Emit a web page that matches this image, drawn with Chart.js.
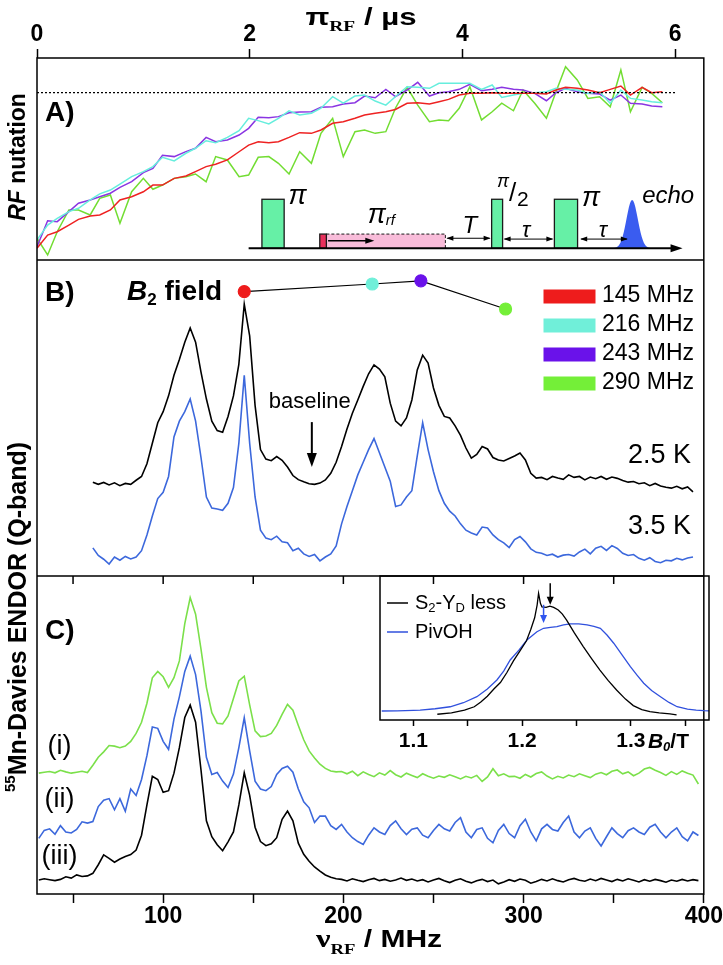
<!DOCTYPE html>
<html>
<head>
<meta charset="utf-8">
<script src="https://cdn.jsdelivr.net/npm/chart.js@4.4.1/dist/chart.umd.min.js"></script>
<style>
  body { margin: 0; background: #fff; }
  #wrap { position: relative; width: 723px; height: 965px; }
  #main { position: absolute; left: 0; top: 0; }
  #inset { position: absolute; left: 379px; top: 575px; }
</style>
</head>
<body>
<div id="wrap">
  <canvas id="main" width="723" height="965"></canvas>
  <canvas id="inset" width="331" height="185"></canvas>
</div>
<script>
"use strict";

// ---- panel A: RF nutation (pi_RF in us, echo normalised to 1) ----
let nutTime = [0, 0.1, 0.19, 0.3, 0.39, 0.5, 0.59, 0.69, 0.78, 0.89,
  1.0, 1.09, 1.18, 1.29, 1.4, 1.49, 1.59, 1.68, 1.79, 1.9,
  1.99, 2.08, 2.18, 2.27, 2.37, 2.47, 2.58, 2.67, 2.78, 2.88,
  2.99, 3.08, 3.18, 3.28, 3.37, 3.48, 3.58, 3.69, 3.78, 3.87,
  3.97, 4.07, 4.18, 4.28, 4.37, 4.48, 4.57, 4.68, 4.79, 4.88,
  4.97, 5.08, 5.18, 5.29, 5.39, 5.49, 5.58, 5.69, 5.78, 5.88];
let nut145 = [0.07, 0.149, 0.169, 0.209, 0.243, 0.263, 0.269, 0.299, 0.359, 0.378,
  0.408, 0.448, 0.448, 0.488, 0.502, 0.528, 0.558, 0.572, 0.598, 0.647,
  0.687, 0.707, 0.701, 0.707, 0.733, 0.761, 0.757, 0.777, 0.817, 0.827,
  0.847, 0.867, 0.877, 0.886, 0.9, 0.937, 0.94, 0.932, 0.946, 0.96,
  0.986, 0.996, 0.996, 1.0, 0.996, 0.996, 0.996, 0.996, 0.992, 1.016,
  1.032, 1.026, 1.016, 1.0, 1.02, 1.04, 0.986, 1.032, 1.0, 1.006];
let nut216 = [0.12, 0.209, 0.249, 0.289, 0.309, 0.359, 0.395, 0.418, 0.454, 0.498,
  0.528, 0.558, 0.614, 0.592, 0.638, 0.668, 0.713, 0.701, 0.733, 0.773,
  0.847, 0.833, 0.813, 0.847, 0.892, 0.867, 0.877, 0.907, 0.976, 0.937,
  0.98, 0.986, 0.95, 0.926, 0.976, 1.036, 1.032, 1.026, 1.056, 1.056,
  1.056, 1.056, 1.02, 1.046, 0.972, 0.986, 0.996, 1.0, 1.006, 1.026,
  1.02, 1.016, 0.996, 1.006, 0.937, 1.016, 0.966, 0.956, 0.946, 0.94];
let nut243 = [0.08, 0.235, 0.229, 0.289, 0.339, 0.359, 0.378, 0.399, 0.434, 0.468,
  0.522, 0.548, 0.626, 0.618, 0.648, 0.668, 0.733, 0.707, 0.717, 0.747,
  0.787, 0.853, 0.851, 0.857, 0.88, 0.885, 0.886, 0.913, 0.916, 0.932,
  0.94, 0.98, 0.97, 1.02, 0.976, 1.016, 1.062, 0.98, 1.0, 1.006,
  1.02, 1.05, 1.012, 1.02, 1.032, 1.02, 1.016, 0.996, 0.952, 1.0,
  1.026, 1.006, 0.996, 0.992, 0.956, 0.986, 0.937, 0.932, 0.92, 0.916];
let nut290 = [0.13, 0.03, 0.169, 0.299, 0.299, 0.269, 0.369, 0.389, 0.219, 0.408,
  0.488, 0.423, 0.448, 0.488, 0.498, 0.514, 0.468, 0.618, 0.598, 0.498,
  0.508, 0.614, 0.618, 0.578, 0.514, 0.647, 0.578, 0.757, 0.847, 0.618,
  0.767, 0.777, 0.757, 0.767, 0.907, 1.032, 0.926, 0.827, 0.837, 0.833,
  0.907, 1.036, 0.837, 0.886, 0.937, 0.892, 1.016, 0.937, 0.847, 1.006,
  1.155, 1.076, 0.966, 0.976, 0.916, 1.136, 0.886, 1.032, 0.996, 0.94];
let nutLevel = [0, 6];

// ---- panel B: ENDOR at 2.5 K and 3.5 K, B2 field at four frequencies ----
let b2Freq = [145, 216, 243, 290];
let b2Field = [90.0, 92.4, 93.4, 84.5];
let freqB = [61, 64, 67, 70, 73, 76, 79, 82, 85, 88,
  91, 94, 97, 100, 103, 106, 109, 112, 115, 118,
  121, 124, 127, 130, 133, 136, 139, 142, 145, 148,
  151, 154, 157, 160, 163, 166, 169, 172, 175, 178,
  181, 184, 187, 190, 193, 196, 199, 202, 205, 208,
  211, 214, 217, 220, 223, 226, 229, 232, 235, 238,
  241, 244, 247, 250, 253, 256, 259, 262, 265, 268,
  271, 274, 277, 280, 283, 286, 289, 292, 295, 298,
  301, 304, 307, 310, 313, 316, 319, 322, 325, 328,
  331, 334, 337, 340, 343, 346, 349, 352, 355, 358,
  361, 364, 367, 370, 373, 376, 379, 382, 385, 388,
  391, 394];
let endor25K = [29.7, 29.0, 29.6, 28.8, 29.5, 28.6, 29.3, 29.0, 30.3, 31.5,
  35.5, 42, 48.5, 52, 57, 63.5, 68.5, 74, 78.5, 74,
  64.5, 56, 49, 46, 45.5, 50.5, 57, 67, 86, 76,
  54, 40, 37, 36.5, 37.8, 36.6, 34.5, 31.8, 30.5, 29.8,
  29.2, 29.0, 29.4, 30.4, 32.5, 36, 41, 46.5, 51.5, 55.7,
  60, 64, 66.8, 65.5, 63, 54.7, 49, 47.5, 50, 55.7,
  65.2, 69.9, 67.4, 59.5, 54, 50.5, 50, 47.5, 44.5, 40.5,
  37.3, 38.5, 41, 40.2, 37.5, 36.7, 36.4, 37.2, 38, 38.9,
  36.7, 32.5, 31, 31.2, 30.5, 31.5, 31, 30.6, 32, 31.2,
  31.5, 30.4, 31.3, 30.8, 31.5, 30.6, 31.3, 30.9, 30.2, 29.7,
  29.9, 29.2, 29.5, 28.6, 29.3, 28.5, 28.1, 27.8, 28.4, 27.6,
  28.2, 26.6];
let endor35K = [8.9, 6.5, 5.3, 3.8, 6.0, 5.0, 6.2, 5.4, 6.0, 8.0,
  13, 19, 24.5, 26.5, 31.5, 44, 49, 52, 56, 49,
  37.5, 25, 21.5, 21.2, 20.8, 23, 28, 42, 63.5, 42,
  25, 14.5, 12, 11.5, 12.6, 10.8, 10.5, 8.0, 8.8, 7.0,
  6.2, 6.8, 4.8, 6.0, 7.0, 9.5, 16.5, 22, 27, 32,
  36, 40, 43.5, 39, 34.5, 30, 22, 22.5, 25, 27,
  38, 48.5, 40, 33, 27, 23, 20.5, 19, 16.5, 14.5,
  13.6, 13, 15.5, 15.2, 13, 11.5, 10.5, 9, 11.5, 12.5,
  10.8, 8.6, 7.5, 7.2, 6.5, 6.9, 6.0, 6.6, 6.8, 6.3,
  7.6, 8.5, 7.0, 8.8, 9.4, 8.1, 9.6, 8.7, 7.2, 6.5,
  6.8, 5.6, 5.0, 5.8, 4.6, 4.2, 5.0, 4.8, 5.6, 5.1,
  5.7, 6.0];
let baselineFreq = 182.5;
let baselineArrow = [48.7, 34.5];

// ---- panel C: ENDOR spectra (i), (ii), (iii) ----
let freqC = [31, 34, 37, 40, 43, 46, 49, 52, 55, 58,
  61, 64, 67, 70, 73, 76, 79, 82, 85, 88,
  91, 94, 97, 100, 103, 106, 109, 112, 115, 118,
  121, 124, 127, 130, 133, 136, 139, 142, 145, 148,
  151, 154, 157, 160, 163, 166, 169, 172, 175, 178,
  181, 184, 187, 190, 193, 196, 199, 202, 205, 208,
  211, 214, 217, 220, 223, 226, 229, 232, 235, 238,
  241, 244, 247, 250, 253, 256, 259, 262, 265, 268,
  271, 274, 277, 280, 283, 286, 289, 292, 295, 298,
  301, 304, 307, 310, 313, 316, 319, 322, 325, 328,
  331, 334, 337, 340, 343, 346, 349, 352, 355, 358,
  361, 364, 367, 370, 373, 376, 379, 382, 385, 388,
  391, 394, 397];
let endorI = [38.0, 38.3, 38.5, 38.1, 38.9, 38.4, 38.0, 38.3, 38.6, 38.2,
  40.5, 43, 44.7, 46.7, 46.5, 46, 46.5, 48, 50.5, 54,
  60, 68, 70, 68.3, 65, 68, 73.3, 85, 93.2, 88,
  77, 65, 57, 53.7, 53.5, 56, 61.5, 67, 68.5, 59.5,
  51.3, 49.5, 49.7, 50.5, 53, 56.5, 59.6, 57.8, 53, 48.5,
  45, 42.8, 40.8, 39.5, 38.7, 38.4, 38.5, 37.8, 38.6, 37.2,
  38.4, 37.6, 36.9, 38.1, 37.4, 38.8, 37.5, 36.8, 38.0, 37.3,
  36.6, 37.8, 37.0, 36.4, 37.1, 36.7, 37.5, 36.9, 36.2, 37.0,
  36.5, 37.3, 35.4, 36.8, 39.4, 37.2, 37.8, 36.9, 37.0, 36.4,
  37.6, 36.8, 37.9, 38.4, 37.1, 36.2, 37.0, 36.5, 37.4, 36.9,
  37.8, 37.2, 36.6, 37.7, 38.2, 37.5, 38.6, 39.0, 37.8, 38.4,
  37.2, 38.0, 39.3, 39.8, 38.9, 38.2, 37.3, 38.5, 37.6, 38.7,
  38.0, 37.4, 34.6];
let endorII = [17.5, 20.0, 20.5, 18.8, 21.5, 19.5, 19.2, 20.3, 22.7, 22.3,
  22.8, 27.5, 29.5, 30, 26.5, 30, 26, 33, 31, 36,
  43.5, 52.5, 52.1, 48, 45.5, 55, 62, 70, 74.8, 69,
  57.5, 43, 37.6, 38.2, 35.5, 33.5, 37.7, 46, 55.4, 45,
  35.5, 33, 32.5, 33.8, 37.6, 39.5, 40.2, 38.3, 33, 29,
  27.1, 22.5, 24.5, 24.5, 21.5, 20.3, 21.9, 19.5, 17.7, 16.5,
  15.6, 18.5, 20.8, 19.5, 18.7, 21.5, 23.0, 20.5, 18.7, 20.4,
  20.8, 18.5, 17.7, 20.0, 21.9, 20.5, 19.8, 22.5, 24.0, 19.5,
  17.7, 20.3, 20.8, 17.5, 16.1, 20.0, 21.9, 19.0, 17.7, 21.5,
  23.5, 19.5, 16.7, 20.5, 21.9, 20.3, 19.8, 22.5, 24.5, 19.5,
  17.7, 19.8, 20.8, 17.5, 15.1, 18.0, 20.8, 19.0, 17.7, 19.9,
  20.8, 19.5, 18.7, 21.0, 21.9, 19.5, 17.7, 19.5, 20.8, 18.0,
  16.7, 19.5, 18.4];
let endorIII = [4.4, 4.8, 4.5, 4.2, 4.6, 5.4, 5.0, 6.0, 5.5, 5.7,
  6.5, 9.2, 12.3, 11.2, 10.0, 11.0, 11.8, 12.4, 13.8, 18.5,
  28, 37, 36, 32, 32.5, 38, 46, 55.5, 59.4, 54,
  39, 23, 18, 15.5, 13.6, 16.4, 19.5, 28, 38.1, 31,
  21, 16.5, 15.2, 15.8, 17.7, 23.5, 26.1, 23, 16, 12.5,
  10.3, 8.5, 7.2, 6.0, 5.3, 4.8, 4.6, 4.1, 4.8, 4.3,
  3.9, 4.5, 4.9, 4.2, 4.6, 4.0, 4.4, 5.0, 4.3, 4.7,
  4.1, 4.5, 3.8, 4.4, 4.9, 4.2, 3.6, 4.3, 4.8, 4.0,
  3.5, 4.2, 4.6, 3.9, 4.4, 3.2, 3.8, 4.5, 4.0, 4.7,
  4.3, 3.4, 3.9, 4.6, 4.1, 4.8, 4.2, 3.8, 4.5, 4.9,
  4.3, 4.0, 4.7, 4.2, 4.9, 4.4, 3.9, 4.6, 4.1, 4.8,
  4.3, 3.8, 4.5, 4.0, 4.6, 4.2, 3.7, 4.4, 4.0, 4.6,
  4.1, 4.5, 4.2];

// ---- inset: field-swept echo, B0 in T ----
let fieldBlack = [1.122, 1.135, 1.147, 1.156, 1.162, 1.168, 1.174, 1.18, 1.186, 1.192,
  1.198, 1.204, 1.208, 1.2115, 1.2138, 1.2151, 1.2168, 1.2182, 1.222, 1.2255,
  1.229, 1.2332, 1.237, 1.2409, 1.248, 1.2562, 1.264, 1.2715, 1.279, 1.2868,
  1.295, 1.3022, 1.31, 1.3175, 1.326, 1.3359, 1.342];
let echoBlack = [4.0, 5.0, 6.8, 9.2, 12.5, 16.5, 21.5, 26, 33, 41,
  48, 55, 63, 71, 80, 88, 81, 78.5, 78.2, 79,
  78.2, 76.4, 73.5, 69.4, 60.5, 51, 42.5, 34.7, 27.5, 20.8,
  14.5, 10, 7.2, 5.8, 4.9, 4.2, 3.5];
let fieldBlue = [1.0709, 1.085, 1.1, 1.1062, 1.12, 1.1338, 1.146, 1.1584, 1.168, 1.1768,
  1.183, 1.189, 1.197, 1.2044, 1.2136, 1.2197, 1.226, 1.232, 1.238, 1.2443,
  1.252, 1.2597, 1.266, 1.2719, 1.278, 1.2842, 1.292, 1.2995, 1.3058, 1.3118,
  1.319, 1.3272, 1.335, 1.3425, 1.352, 1.36, 1.367, 1.3718];
let echoBlue = [6.25, 6.4, 6.7, 6.9, 7.8, 9.2, 12, 16.2, 21.5, 27.8,
  34, 41.7, 48.5, 55.6, 61.3, 63.7, 64.3, 64.8, 66, 66.7,
  66.8, 66, 65, 63.7, 59, 53.3, 45, 37, 31, 25.5,
  20.5, 16.2, 12.2, 9.2, 7.5, 6.8, 6.5, 6.4];
let insetArrowField = [1.2258, 1.2197];
let insetArrowEcho = [[95, 80], [80, 67.4]];

// ---- axes ----
let mhzTicks = [50, 100, 150, 200, 250, 300, 350, 400];
let mhzLabels = ["", "100", "", "200", "", "300", "", "400"];
let usTicks = [0, 2, 4, 6];
let usLabels = ["0", "2", "4", "6"];
let teslaTicks = [1.1, 1.15, 1.2, 1.25, 1.3, 1.35];
let teslaLabels = ["1.1", "", "1.2", "", "1.3", ""];

const sans = '"Liberation Sans", Arial, Helvetica, sans-serif';
const narrow = '"Liberation Sans Narrow", "Arial Narrow", "Liberation Sans", sans-serif';
const serif = '"Liberation Serif", "Times New Roman", serif';
const nutColors = ["#ee2222", "#66eedd", "#8a35e2", "#72dd32"];
const b2Colors = ["#ee1c1c", "#70efd9", "#6a12ea", "#74ef38"];
const blueLine = "#3c68dc";

function pts(xs, ys) {
  return xs.map((v, i) => ({ x: v, y: ys[i] }));
}

function line(data, color, xId, yId, width) {
  return {
    data: data, borderColor: color, borderWidth: width || 1.5,
    pointRadius: 0, tension: 0, xAxisID: xId, yAxisID: yId
  };
}

// draws a list of [text, font, dy] pieces one after another
function rich(ctx, x, y, parts) {
  for (const p of parts) {
    ctx.font = p[1];
    ctx.fillText(p[0], x, y + (p[2] || 0));
    x += ctx.measureText(p[0]).width;
  }
  return x;
}

function richWidth(ctx, parts) {
  let w = 0;
  for (const p of parts) {
    ctx.font = p[1];
    w += ctx.measureText(p[0]).width;
  }
  return w;
}

function vertical(ctx, cx, cy, parts) {
  ctx.save();
  ctx.translate(cx, cy);
  ctx.rotate(-Math.PI / 2);
  ctx.textBaseline = "middle";
  ctx.textAlign = "left";
  rich(ctx, -richWidth(ctx, parts) / 2, 0, parts);
  ctx.restore();
}

function stretched(ctx, cx, y, sx, parts) {
  ctx.save();
  ctx.translate(cx, y);
  ctx.scale(sx, 1);
  ctx.textBaseline = "alphabetic";
  ctx.textAlign = "left";
  rich(ctx, -richWidth(ctx, parts) / 2, 0, parts);
  ctx.restore();
}

function head(ctx, x, y, dx, dy, len, hw) {
  // filled arrow head with tip at x,y pointing along dx,dy
  ctx.beginPath();
  ctx.moveTo(x, y);
  ctx.lineTo(x - dx * len - dy * hw, y - dy * len - dx * hw);
  ctx.lineTo(x - dx * len + dy * hw, y - dy * len + dx * hw);
  ctx.closePath();
  ctx.fill();
}

function drawPulses(chart) {
  const ctx = chart.ctx;
  const X = t => chart.scales.x2.getPixelForValue(t);
  const Y = v => chart.scales.yA.getPixelForValue(v);
  const y0 = Y(0.07);
  ctx.save();
  ctx.strokeStyle = "#1a1a1a";
  ctx.fillStyle = "#f8bcd9";
  ctx.fillRect(X(2.721), Y(0.155), X(3.84) - X(2.721), y0 - Y(0.155));
  ctx.setLineDash([3, 2]);
  ctx.lineWidth = 1;
  ctx.beginPath();
  ctx.moveTo(X(2.721), Y(0.155));
  ctx.lineTo(X(3.84), Y(0.155));
  ctx.lineTo(X(3.84), y0);
  ctx.stroke();
  ctx.setLineDash([]);
  ctx.lineWidth = 1.3;
  ctx.fillStyle = "#e8305c";
  ctx.fillRect(X(2.659), Y(0.155), X(2.721) - X(2.659), y0 - Y(0.155));
  ctx.strokeRect(X(2.659), Y(0.155), X(2.721) - X(2.659), y0 - Y(0.155));
  [[2.115, 2.324], [4.275, 4.378], [4.865, 5.083]].forEach(p => {
    ctx.fillStyle = "#66f0a6";
    ctx.fillRect(X(p[0]), Y(0.363), X(p[1]) - X(p[0]), y0 - Y(0.363));
    ctx.strokeRect(X(p[0]), Y(0.363), X(p[1]) - X(p[0]), y0 - Y(0.363));
  });
  // echo
  ctx.fillStyle = "#3a5cf0";
  ctx.beginPath();
  ctx.moveTo(X(5.396), y0);
  for (let k = -20; k <= 20; k++) {
    ctx.lineTo(X(5.596 + k * 0.01), y0 - (y0 - Y(0.359)) * Math.exp(-Math.pow(k / 7.5, 2)));
  }
  ctx.closePath();
  ctx.fill();
  // time axis
  ctx.fillStyle = "#000";
  ctx.strokeStyle = "#000";
  ctx.lineWidth = 2;
  ctx.beginPath();
  ctx.moveTo(X(1.99), y0);
  ctx.lineTo(X(6.0), y0);
  ctx.stroke();
  head(ctx, X(6.07), y0, 1, 0, 12, 4);
  // delays
  ctx.lineWidth = 1;
  [[3.84, 4.275, 0.13], [4.378, 4.865, 0.125], [5.098, 5.565, 0.125]].forEach(p => {
    const yy = Y(p[2]);
    ctx.beginPath();
    ctx.moveTo(X(p[0]) + 2, yy);
    ctx.lineTo(X(p[1]) - 2, yy);
    ctx.stroke();
    head(ctx, X(p[0]) + 1, yy, -1, 0, 7, 2.5);
    head(ctx, X(p[1]) - 1, yy, 1, 0, 7, 2.5);
  });
  ctx.lineWidth = 1.3;
  ctx.beginPath();
  ctx.moveTo(X(2.737), Y(0.115));
  ctx.lineTo(X(3.12), Y(0.115));
  ctx.stroke();
  head(ctx, X(3.172), Y(0.115), 1, 0, 9, 3);
  // labels
  ctx.textBaseline = "middle";
  ctx.textAlign = "center";
  ctx.font = "italic 27px " + sans;
  ctx.fillText("π", X(2.45), Y(0.378));
  ctx.fillText("π", X(5.21), Y(0.369));
  ctx.font = "italic 18px " + sans;
  ctx.fillText("π", X(4.382), Y(0.468));
  ctx.font = "26px " + sans;
  ctx.fillText("/", X(4.471), Y(0.394));
  ctx.font = "21px " + sans;
  ctx.fillText("2", X(4.569), Y(0.359));
  ctx.font = "italic 24px " + sans;
  ctx.fillText("T", X(4.07), Y(0.2));
  ctx.font = "italic 22px " + sans;
  ctx.fillText("τ", X(4.6), Y(0.175));
  ctx.fillText("τ", X(5.32), Y(0.175));
  ctx.textAlign = "left";
  ctx.font = "italic 24px " + sans;
  ctx.fillText("echo", X(5.69), Y(0.378));
  rich(ctx, X(3.11), Y(0.269), [["π", "italic 27px " + sans], ["rf", "italic 15px " + sans, 6]]);
  ctx.restore();
}

function drawLabels(chart) {
  const ctx = chart.ctx;
  const s = chart.scales;
  ctx.save();
  ctx.fillStyle = "#000";
  ctx.textAlign = "left";
  ctx.textBaseline = "middle";
  ctx.font = "bold 28px " + sans;
  ctx.fillText("A)", 45, 113);
  ctx.fillText("B)", 45, 293);
  ctx.fillText("C)", 45, 631);
  rich(ctx, 127, 292, [["B", "italic bold 28px " + sans], ["2", "bold 17px " + sans, 8],
    [" field", "bold 28px " + sans]]);

  // B2 legend
  b2Freq.forEach((f, i) => {
    const yy = 296.5 + i * 29;
    ctx.fillStyle = b2Colors[i];
    ctx.fillRect(543.5, yy - 7, 52, 14);
    ctx.fillStyle = "#000";
    ctx.font = "23px " + sans;
    ctx.fillText(f + " MHz", 602, yy - 1);
  });

  // baseline marker
  const bx = s.x.getPixelForValue(baselineFreq);
  const yTop = s.yB.getPixelForValue(baselineArrow[0]);
  const yTip = s.yB.getPixelForValue(baselineArrow[1]);
  ctx.strokeStyle = "#000";
  ctx.lineWidth = 2;
  ctx.beginPath();
  ctx.moveTo(bx, yTop);
  ctx.lineTo(bx, yTip - 10);
  ctx.stroke();
  head(ctx, bx, yTip, 0, 1, 14, 5);
  ctx.textAlign = "center";
  ctx.font = "22px " + sans;
  ctx.fillText("baseline", bx - 2, yTop - 20);

  ctx.textAlign = "right";
  ctx.font = "27px " + sans;
  ctx.fillText("2.5 K", 691, 456);
  ctx.fillText("3.5 K", 691, 527);

  ctx.textAlign = "center";
  ctx.fillText("(i)", 59.5, 747);
  ctx.fillText("(ii)", 59.5, 800);
  ctx.fillText("(iii)", 59.5, 857);

  vertical(ctx, 19, 157, [["RF", "italic bold 23px " + sans], [" nutation", "bold 23px " + sans]]);
  vertical(ctx, 19, 617, [["55", "bold 15px " + sans, -8], ["Mn-Davies ENDOR (Q-band)", "bold 25px " + sans]]);

  stretched(ctx, 361, 25, 1.3, [["π", "bold 24px " + sans], ["RF", "bold 15px " + serif, 6],
    [" / µs", "bold 24px " + sans]]);
  stretched(ctx, 379, 947, 1.25, [["ν", "bold 26px " + serif], ["RF", "bold 15px " + serif, 7],
    [" / MHz", "bold 24px " + sans]]);
  ctx.restore();
}

const framePlugin = {
  id: "frame",
  beforeDraw(chart) {
    const ctx = chart.ctx;
    ctx.save();
    ctx.fillStyle = "#fff";
    ctx.fillRect(0, 0, chart.width, chart.height);
    ctx.restore();
  },
  afterDatasetsDraw(chart) {
    const ctx = chart.ctx;
    const a = chart.chartArea;
    const s = chart.scales;
    ctx.save();
    ctx.strokeStyle = "#000";
    ctx.lineWidth = 1.5;
    ctx.strokeRect(a.left, a.top, a.right - a.left, a.bottom - a.top);
    ctx.beginPath();
    ctx.moveTo(a.left, s.yA.bottom);
    ctx.lineTo(a.right, s.yA.bottom);
    ctx.moveTo(a.left, s.yB.bottom);
    ctx.lineTo(a.right, s.yB.bottom);
    // ticks pointing into panel C
    s.x.ticks.forEach(t => {
      const px = s.x.getPixelForValue(t.value);
      if (px < a.right - 2) {
        ctx.moveTo(px, s.yB.bottom);
        ctx.lineTo(px, s.yB.bottom + 8);
      }
    });
    ctx.stroke();
    ctx.restore();
    drawPulses(chart);
    drawLabels(chart);
  }
};

function hiddenY(min, max, weight, stackWeight) {
  return {
    type: "linear", position: "left", stack: "fig", stackWeight: stackWeight, weight: weight,
    min: min, max: max, ticks: { display: false }, grid: { display: false },
    border: { display: false }, afterFit: s => { s.width = 0; }
  };
}

let tickFont = { family: narrow, size: 23, weight: "bold" };

let b2Set = line(pts(b2Freq, b2Field), "#000", "x", "yB", 1.2);
b2Set.pointRadius = 6;
b2Set.pointBackgroundColor = b2Colors;
b2Set.pointBorderColor = b2Colors;
b2Set.order = -1;

let levelSet = line(pts(nutLevel, [1, 1]), "#000", "x2", "yA", 1.2);
levelSet.borderDash = [2, 2];

new Chart(document.getElementById("main"), {
  type: "line",
  data: {
    datasets: [
      b2Set,
      levelSet,
      line(pts(nutTime, nut145), nutColors[0], "x2", "yA"),
      line(pts(nutTime, nut216), nutColors[1], "x2", "yA"),
      line(pts(nutTime, nut243), nutColors[2], "x2", "yA"),
      line(pts(nutTime, nut290), nutColors[3], "x2", "yA"),
      line(pts(freqB, endor25K), "#000", "x", "yB", 1.6),
      line(pts(freqB, endor35K), blueLine, "x", "yB", 1.6),
      line(pts(freqC, endorI), "#7be04a", "x", "yC", 1.6),
      line(pts(freqC, endorII), blueLine, "x", "yC", 1.6),
      line(pts(freqC, endorIII), "#000", "x", "yC", 1.6)
    ]
  },
  options: {
    responsive: false,
    animation: false,
    layout: { padding: { left: 37, right: 14, top: 0, bottom: 0 } },
    plugins: { legend: { display: false }, tooltip: { enabled: false } },
    scales: {
      x: {
        type: "linear", position: "bottom", min: 30, max: 400,
        afterBuildTicks: s => { s.ticks = mhzTicks.map(v => ({ value: v })); },
        ticks: { callback: (v, i) => mhzLabels[i], font: tickFont, color: "#000", padding: 0, maxRotation: 0, autoSkip: false },
        grid: { drawOnChartArea: false, tickLength: 9, tickColor: "#000", tickWidth: 1.5 },
        border: { display: false },
        afterFit: s => { s.height = 71; }
      },
      x2: {
        type: "linear", position: "top", min: 0, max: 6.27,
        afterBuildTicks: s => { s.ticks = usTicks.map(v => ({ value: v })); },
        ticks: { callback: (v, i) => usLabels[i], font: tickFont, color: "#000", padding: 1, maxRotation: 0, autoSkip: false },
        grid: { drawOnChartArea: false, tickLength: 9, tickColor: "#000", tickWidth: 1.5 },
        border: { display: false },
        afterFit: s => { s.height = 58; }
      },
      yA: hiddenY(0, 1.2074, 3, 202),
      yB: hiddenY(0, 100, 2, 316),
      yC: hiddenY(0, 100, 1, 318)
    }
  },
  plugins: [framePlugin]
});

// ---- inset chart ----
const insetPlugin = {
  id: "insetDeco",
  afterDatasetsDraw(chart) {
    const ctx = chart.ctx;
    const a = chart.chartArea;
    const s = chart.scales;
    ctx.save();
    ctx.strokeStyle = "#000";
    ctx.lineWidth = 1.5;
    ctx.strokeRect(a.left, a.top, a.right - a.left, a.bottom - a.top);

    // legend
    ctx.textBaseline = "middle";
    ctx.textAlign = "left";
    [["#000", 27, [["S", "20px " + sans], ["2", "13px " + sans, 5], ["-Y", "20px " + sans], ["D", "13px " + sans, 5], [" less", "20px " + sans]]],
     [chart.data.datasets[1].borderColor, 56, [["PivOH", "20px " + sans]]]].forEach(r => {
      ctx.strokeStyle = r[0];
      ctx.lineWidth = 1.5;
      ctx.beginPath();
      ctx.moveTo(a.left + 7, a.top + r[1]);
      ctx.lineTo(a.left + 28, a.top + r[1]);
      ctx.stroke();
      ctx.fillStyle = "#000";
      rich(ctx, a.left + 35, a.top + r[1], r[2]);
    });

    // measuring positions
    ["#000", "#2f55ee"].forEach((c, i) => {
      const px = s.x.getPixelForValue(insetArrowField[i]);
      const y1 = s.y.getPixelForValue(insetArrowEcho[i][0]);
      const y2 = s.y.getPixelForValue(insetArrowEcho[i][1]);
      ctx.strokeStyle = c;
      ctx.fillStyle = c;
      ctx.lineWidth = 1.5;
      ctx.beginPath();
      ctx.moveTo(px, y1);
      ctx.lineTo(px, y2 - 5);
      ctx.stroke();
      head(ctx, px, y2, 0, 1, 8, 3.5);
    });

    // unit after the 1.3 label
    ctx.fillStyle = "#000";
    rich(ctx, s.x.getPixelForValue(1.3) + 17, a.bottom + 22, [["B", "italic bold 21px " + sans],
      ["0", "italic bold 13px " + sans, 5], ["/T", "bold 21px " + sans]]);
    ctx.restore();
  }
};

new Chart(document.getElementById("inset"), {
  type: "line",
  data: {
    datasets: [
      line(pts(fieldBlack, echoBlack), "#000", "x", "y", 1.3),
      line(pts(fieldBlue, echoBlue), "#3050dd", "x", "y", 1.3)
    ]
  },
  options: {
    responsive: false,
    animation: false,
    layout: { padding: { left: 1, right: 1, top: 1, bottom: 0 } },
    plugins: { legend: { display: false }, tooltip: { enabled: false } },
    scales: {
      x: {
        type: "linear", min: 1.0693, max: 1.3718,
        afterBuildTicks: s => { s.ticks = teslaTicks.map(v => ({ value: v })); },
        ticks: { callback: (v, i) => teslaLabels[i], font: { family: sans, size: 21, weight: "bold" }, color: "#000", padding: 3, maxRotation: 0, autoSkip: false },
        grid: { drawOnChartArea: false, tickLength: 6, tickColor: "#000", tickWidth: 1.5 },
        border: { display: false },
        afterFit: s => { s.height = 40; }
      },
      y: { display: false, min: 0, max: 100 }
    }
  },
  plugins: [insetPlugin]
});
</script>
</body>
</html>
